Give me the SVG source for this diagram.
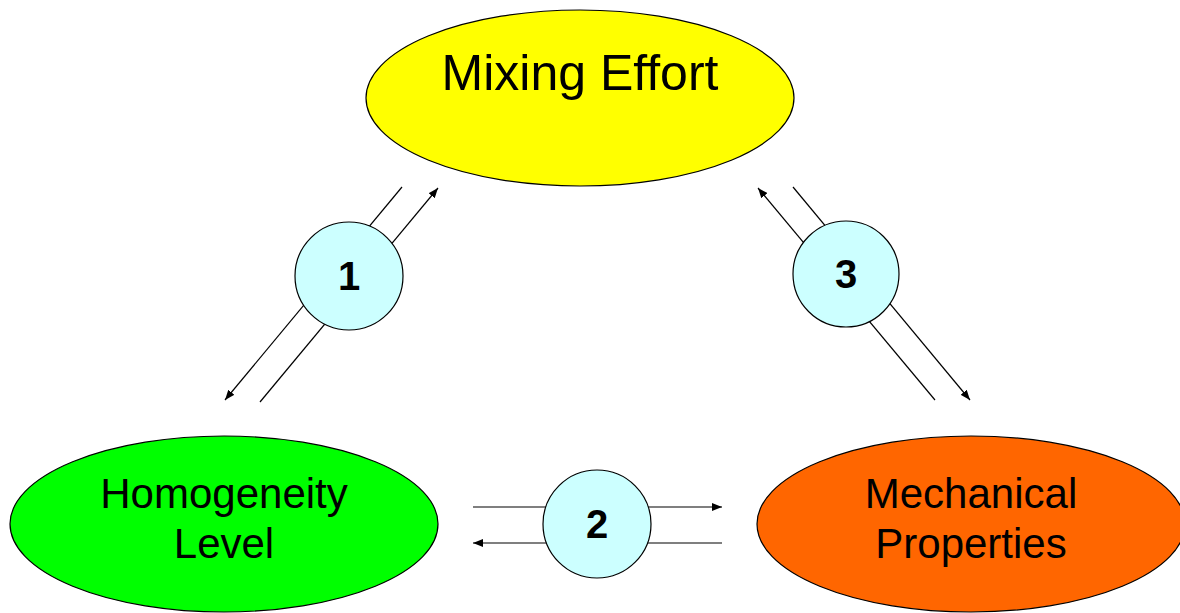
<svg xmlns="http://www.w3.org/2000/svg" width="1180" height="613" viewBox="0 0 1180 613">
<style>
.el{stroke:#000;stroke-width:1.2}
.lbl{font-family:"Liberation Sans",Arial,sans-serif;fill:#000;text-anchor:middle}
.num{font-family:"Liberation Sans",Arial,sans-serif;font-weight:bold;font-size:40px;fill:#000;text-anchor:middle}
.conn line{stroke:#000;stroke-width:1.2;fill:none}
.badge{fill:#CCFFFF;stroke:#000;stroke-width:1.2}
</style>
<defs>
<marker id="ah" viewBox="0 0 10 8" refX="10" refY="4" markerWidth="10" markerHeight="8" markerUnits="userSpaceOnUse" orient="auto">
<path d="M0,0 L10,4 L0,8 Z" fill="#000"/>
</marker>
</defs>
<rect width="1180" height="613" fill="#fff"/>
<g id="connectors" class="conn">
<line x1="402" y1="187" x2="225" y2="400" marker-end="url(#ah)"/>
<line x1="260" y1="402" x2="438" y2="188" marker-end="url(#ah)"/>
<line x1="935" y1="400" x2="758" y2="188" marker-end="url(#ah)"/>
<line x1="793" y1="187" x2="970" y2="400" marker-end="url(#ah)"/>
<line x1="473" y1="507" x2="722" y2="507" marker-end="url(#ah)"/>
<line x1="722" y1="543" x2="473" y2="543" marker-end="url(#ah)"/>
</g>
<g id="mixing-effort">
<ellipse class="el" cx="580" cy="98" rx="214" ry="88" fill="#FFFF00"/>
<text class="lbl" x="580" y="90" font-size="50">Mixing Effort</text>
</g>
<g id="homogeneity-level">
<ellipse class="el" cx="224" cy="524" rx="214" ry="88" fill="#00FF00"/>
<text class="lbl" x="224" y="508" font-size="42">Homogeneity</text>
<text class="lbl" x="224" y="558" font-size="42">Level</text>
</g>
<g id="mechanical-properties">
<ellipse class="el" cx="971" cy="524" rx="214" ry="88" fill="#FF6600"/>
<text class="lbl" x="971" y="508" font-size="42">Mechanical</text>
<text class="lbl" x="971" y="558" font-size="42">Properties</text>
</g>
<g id="badge-1">
<circle class="badge" cx="349" cy="276" r="54"/>
<text class="num" x="349" y="290">1</text>
</g>
<g id="badge-2">
<circle class="badge" cx="597" cy="524" r="54"/>
<text class="num" x="597" y="538">2</text>
</g>
<g id="badge-3">
<circle class="badge" cx="846" cy="274" r="53"/>
<text class="num" x="846" y="288">3</text>
</g>
</svg>
